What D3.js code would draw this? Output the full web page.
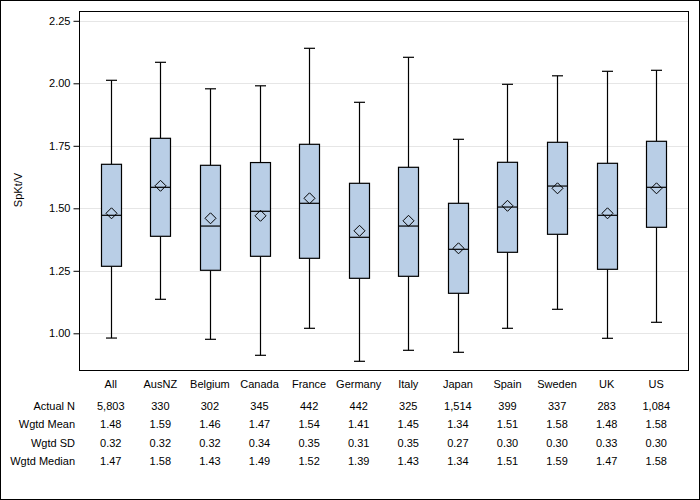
<!DOCTYPE html>
<html><head><meta charset="utf-8">
<script src="https://cdn.jsdelivr.net/npm/d3@7"></script>
<style>body{margin:0;background:#fff}svg{display:block;font-family:Arial,"Liberation Sans",sans-serif}</style>
</head><body><svg id="c" width="700" height="500"></svg>
<script>
const categories = ["All","AusNZ","Belgium","Canada","France","Germany","Italy","Japan","Spain","Sweden","UK","US"];
const whiskerLow  = [0.981,1.136,0.976,0.912,1.020,0.888,0.932,0.924,1.020,1.096,0.980,1.044];
const q1          = [1.268,1.388,1.252,1.308,1.300,1.220,1.228,1.160,1.324,1.396,1.256,1.424];
const median      = [1.472,1.584,1.429,1.488,1.520,1.384,1.429,1.336,1.505,1.589,1.472,1.584];
const q3          = [1.676,1.780,1.672,1.683,1.756,1.600,1.664,1.520,1.684,1.764,1.680,1.768];
const whiskerHigh = [2.012,2.084,1.978,1.990,2.140,1.924,2.104,1.776,1.996,2.030,2.048,2.052];
const actualN     = ["5,803","330","302","345","442","442","325","1,514","399","337","283","1,084"];
const wgtdMean    = [1.48,1.59,1.46,1.47,1.54,1.41,1.45,1.34,1.51,1.58,1.48,1.58];
const wgtdSD      = [0.32,0.32,0.32,0.34,0.35,0.31,0.35,0.27,0.30,0.30,0.33,0.30];
const wgtdMedian  = [1.47,1.58,1.43,1.49,1.52,1.39,1.43,1.34,1.51,1.59,1.47,1.58];
const yTicks = [1.00,1.25,1.50,1.75,2.00,2.25];
const rowLabels = ["Actual N","Wgtd Mean","Wgtd SD","Wgtd Median"];

const svg = d3.select("#c");
const L=79, R=688, T=11, B=370;
const x = d3.scalePoint().domain(categories).range([L,R]).padding(0.64);
const y = d3.scaleLinear().domain([1,2.25]).range([333.3,20.8]);

svg.append("rect").attr("x",0.5).attr("y",0.5).attr("width",699).attr("height",499).attr("fill","none").attr("stroke","#000");

// gridlines
svg.append("g").selectAll("line").data(yTicks).join("line")
  .attr("x1",L).attr("x2",R).attr("y1",d=>Math.round(y(d))+0.5).attr("y2",d=>Math.round(y(d))+0.5)
  .attr("stroke","#e6e6e6");

// axis
const ax = svg.append("g").attr("transform",`translate(${L+0.5},0)`)
  .call(d3.axisLeft(y).tickValues(yTicks).tickFormat(d3.format(".2f")).tickSize(6).tickPadding(3));
ax.select(".domain").remove();
ax.selectAll("text").attr("font-size",11).attr("fill","#000").style("font-family","Arial, 'Liberation Sans', sans-serif");
ax.selectAll(".tick line").attr("stroke","#000");

svg.append("text").attr("transform","translate(22,190) rotate(-90)").attr("text-anchor","middle")
  .attr("font-size",11).text("SpKt/V");

const bw=20, cw=11;
const g = svg.append("g");
categories.forEach((c,i)=>{
  const cx = Math.round(x(c))+0.5;
  const gg = g.append("g").attr("stroke","#000").attr("stroke-width",1.2);
  gg.append("line").attr("x1",cx).attr("x2",cx).attr("y1",y(whiskerHigh[i])).attr("y2",y(q3[i]));
  gg.append("line").attr("x1",cx).attr("x2",cx).attr("y1",y(q1[i])).attr("y2",y(whiskerLow[i]));
  gg.append("line").attr("x1",cx-cw/2).attr("x2",cx+cw/2).attr("y1",y(whiskerHigh[i])).attr("y2",y(whiskerHigh[i]));
  gg.append("line").attr("x1",cx-cw/2).attr("x2",cx+cw/2).attr("y1",y(whiskerLow[i])).attr("y2",y(whiskerLow[i]));
  gg.append("rect").attr("x",cx-bw/2).attr("width",bw).attr("y",y(q3[i])).attr("height",y(q1[i])-y(q3[i]))
    .attr("fill","#b9cee6");
  gg.append("line").attr("x1",cx-bw/2).attr("x2",cx+bw/2).attr("y1",y(median[i])).attr("y2",y(median[i]));
  const my=y(wgtdMean[i]), s=5.5;
  gg.append("path").attr("d",`M${cx},${my-s}L${cx+s},${my}L${cx},${my+s}L${cx-s},${my}Z`)
    .attr("fill","none").attr("stroke-width",1);
});

svg.append("rect").attr("x",L+0.5).attr("y",T+0.5).attr("width",R-L).attr("height",B-T)
  .attr("fill","none").attr("stroke","#000");

// table
const tf = svg.append("g").attr("font-size",11).attr("fill","#000");
tf.selectAll("text.cat").data(categories).join("text").attr("class","cat")
  .attr("x",d=>x(d)).attr("y",388).attr("text-anchor","middle").text(d=>d);
const rows=[actualN, wgtdMean.map(d3.format(".2f")), wgtdSD.map(d3.format(".2f")), wgtdMedian.map(d3.format(".2f"))];
const rowY=[409.5,428,446.5,464.5];
rows.forEach((r,j)=>{
  tf.append("text").attr("x",75).attr("y",rowY[j]).attr("text-anchor","end").text(rowLabels[j]);
  tf.selectAll(null).data(r).join("text").attr("x",(d,i)=>x(categories[i])).attr("y",rowY[j])
    .attr("text-anchor","middle").text(d=>d);
});
</script></body></html>
